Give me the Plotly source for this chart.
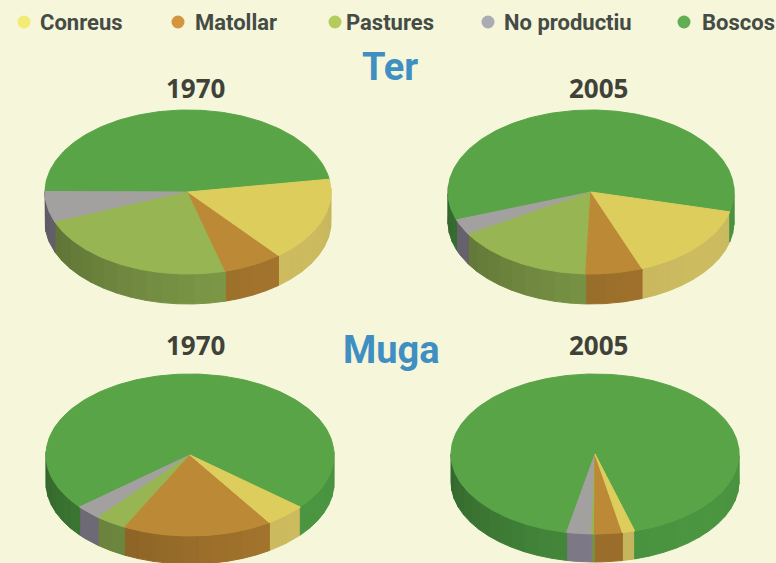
import numpy as np
import plotly.graph_objects as go

W, H = 776, 563
BG = "#F6F6DA"

categories = ["Conreus", "Matollar", "Pastures", "No productiu", "Boscos"]
ter_1970 = [16.6, 6.7, 23.2, 6.1, 47.4]
ter_2005 = [15.3, 6.4, 15.8, 3.1, 59.4]
muga_1970 = [4.6, 16.8, 3.5, 2.9, 72.2]
muga_2005 = [1.4, 3.1, 0.3, 2.8, 92.4]

top_colors = ["#DDCD5D", "#BC8A36", "#97B552", "#A3A0A0", "#58A447"]
side_colors = ["#C9B85E", "#A0722C", "#7E9A48", "#85808F", "#4A9340"]
legend_colors = ["#F3EC74", "#D3963F", "#B4CB5E", "#ABABB3", "#63AE52"]
legend_text_x = [38, 193, 344, 502, 700]
legend_dot_x = [24, 178, 335, 488, 684]

# value list, start angle (deg), centre x, centre y, radii, depth
pies = [
    (ter_1970, 9, 188, 192, 143, 82, 30),
    (ter_2005, -14, 591, 192, 143, 82, 30),
    (muga_1970, -40, 190, 455, 144, 81, 28),
    (muga_2005, -74, 595, 454, 144, 80, 28),
]
titles = [("Ter", 390, 67), ("Muga", 391, 350)]
years = [("1970", 195, 88), ("2005", 598, 88), ("1970", 195, 345), ("2005", 598, 345)]

fig = go.Figure()


def shade(hex_color, f):
    r, g, b = (int(hex_color[i:i + 2], 16) for i in (1, 3, 5))
    return "#%02x%02x%02x" % tuple(min(255, int(c * f)) for c in (r, g, b))


def poly(xs, ys, color):
    fig.add_trace(go.Scatter(x=xs, y=ys, mode="lines", fill="toself", fillcolor=color,
                             line=dict(color=color, width=1), hoverinfo="skip",
                             showlegend=False))


for values, start, cx, cy, rx, ry, depth in pies:
    angles = start - np.cumsum([0] + values) * 3.6
    # side wall: only the front half of the rim is visible
    for i, c in enumerate(side_colors):
        a0, a1 = angles[i], angles[i + 1]
        n = max(1, int((a0 - a1) / 6))
        edges = np.linspace(a0, a1, n + 1)
        for e0, e1 in zip(edges[:-1], edges[1:]):
            mid = np.radians((e0 + e1) / 2)
            if np.sin(mid) > 0.03:
                continue
            t = np.radians(np.linspace(e0, e1, 4))
            x = cx + rx * np.cos(t)
            y = cy - ry * np.sin(t)
            f = 0.84 + 0.18 * np.cos(mid - np.radians(-40))
            poly(list(x) + list(x[::-1]) + [x[0]],
                 list(y) + list(y[::-1] + depth) + [y[0]], shade(c, f))
    # top face
    order = [4, 3, 2, 1, 0]
    for i in order:
        t = np.radians(np.linspace(angles[i], angles[i + 1], max(3, int(values[i] * 3))))
        x = [cx] + list(cx + rx * np.cos(t)) + [cx]
        y = [cy] + list(cy - ry * np.sin(t)) + [cy]
        poly(x, y, top_colors[i])

fig.add_trace(go.Scatter(x=legend_dot_x, y=[22] * 5, mode="markers",
                         marker=dict(size=13, color=legend_colors), hoverinfo="skip",
                         showlegend=False))

ann = []
for name, x in zip(categories, legend_text_x):
    ann.append(dict(x=x, y=22, text=f"<b>{name}</b>", xanchor="left", yanchor="middle",
                    showarrow=False,
                    font=dict(family="Roboto", size=22, color="#454B45")))
for name, x, y in titles:
    ann.append(dict(x=x, y=y, text=f"<b>{name}</b>", xanchor="center", yanchor="middle",
                    showarrow=False,
                    font=dict(family="Roboto", size=38, color="#3F8FC2")))
for name, x, y in years:
    ann.append(dict(x=x, y=y, text=f"<b>{name}</b>", xanchor="center", yanchor="middle",
                    showarrow=False,
                    font=dict(family="Open Sans", size=26, color="#3F4239")))

fig.update_layout(
    width=W, height=H, margin=dict(l=0, r=0, t=0, b=0),
    paper_bgcolor=BG, plot_bgcolor=BG, annotations=ann, showlegend=False,
    xaxis=dict(range=[0, W], visible=False, fixedrange=True),
    yaxis=dict(range=[H, 0], visible=False, fixedrange=True),
)
fig.write_html("out.html", config={"displayModeBar": False},
               post_script=f"document.body.style.margin='0';document.body.style.background='{BG}';"
                           "document.documentElement.style.overflow='hidden';")
